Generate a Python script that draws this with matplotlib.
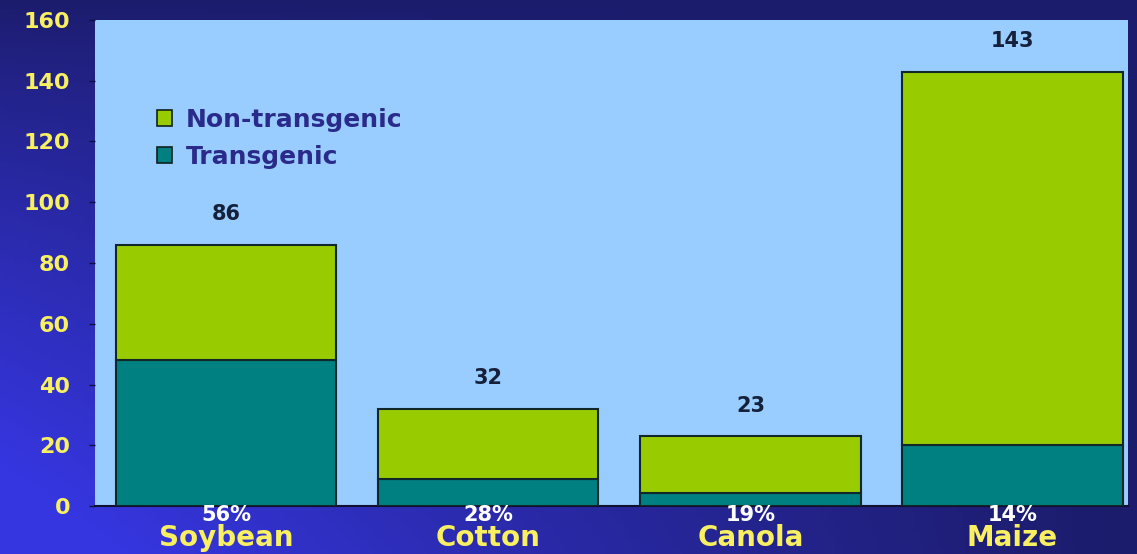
import numpy as np
import matplotlib
matplotlib.use("Agg")
import matplotlib.pyplot as plt
from matplotlib.patches import Patch
from matplotlib.colors import to_rgb

# crop data
crops = ["Soybean", "Cotton", "Canola", "Maize"]
totals = [86, 32, 23, 143]
transgenic = [48, 9, 4.4, 20]
pct_labels = ["56%", "28%", "19%", "14%"]
y_ticks = [0, 20, 40, 60, 80, 100, 120, 140, 160]

non_transgenic = [t - g for t, g in zip(totals, transgenic)]

GREEN = "#99cc00"
TEAL = "#008080"
EDGE = "#10282a"
YELLOW = "#f8f060"
NAVY_TEXT = "#2a2a8a"

fig = plt.figure(figsize=(11.37, 5.54), dpi=100)

# background gradient: bright blue lower-left, dark navy top and right
bg = fig.add_axes([0, 0, 1, 1], zorder=-10)
h, w = 120, 240
yy, xx = np.mgrid[0:1:h * 1j, 0:1:w * 1j]  # yy=0 top, 1 bottom
dark = np.array(to_rgb("#1c1c6c"))
bright = np.array(to_rgb("#3636e0"))
t = np.clip(yy ** 0.8 * (1 - xx) ** 1.2 * 1.15, 0, 1)
img = dark[None, None, :] * (1 - t[..., None]) + bright[None, None, :] * t[..., None]
bg.imshow(img, aspect="auto", extent=[0, 1, 0, 1], origin="upper")
bg.axis("off")

ax = fig.add_axes([0.0836, 0.0866, 0.9084, 0.8774])
ax.set_facecolor("#99ccff")

x = np.arange(len(crops))
ax.bar(x, transgenic, width=0.84, color=TEAL, edgecolor=EDGE, linewidth=1.5, zorder=3)
ax.bar(x, non_transgenic, width=0.84, bottom=transgenic, color=GREEN,
       edgecolor=EDGE, linewidth=1.5, zorder=3)

for xi, tot in zip(x, totals):
    ax.annotate(str(tot), (xi, tot), xytext=(0, 22), textcoords="offset points",
                ha="center", va="center", fontsize=15, fontweight="bold",
                color="#15203a", zorder=4)

ax.set_xlim(-0.5, 3.44)
ax.set_ylim(0, 160)
ax.set_yticks(y_ticks)
ax.set_yticklabels([str(v) for v in y_ticks], color=YELLOW, fontsize=16,
                   fontweight="bold")
ax.tick_params(axis="y", length=4, width=1, color="#101040", pad=14)
ax.set_xticks([])

for s in ["top", "right", "left"]:
    ax.spines[s].set_visible(False)
ax.spines["bottom"].set_color("#101030")
ax.spines["bottom"].set_linewidth(1.5)

tr = ax.get_xaxis_transform()
for xi, p, c in zip(x, pct_labels, crops):
    ax.text(xi, -0.018, p, transform=tr, ha="center", va="center",
            fontsize=15, fontweight="bold", color="white", clip_on=False)
    ax.text(xi, -0.066, c, transform=tr, ha="center", va="center",
            fontsize=20, fontweight="bold", color=YELLOW, clip_on=False)

handles = [Patch(facecolor=GREEN, edgecolor="#102020", linewidth=1.2, label="Non-transgenic"),
           Patch(facecolor=TEAL, edgecolor="#102020", linewidth=1.2, label="Transgenic")]
leg = ax.legend(handles=handles, loc="upper left", bbox_to_anchor=(0.038, 0.865),
                frameon=False, handlelength=0.6, handleheight=0.6, handletextpad=0.55,
                labelspacing=0.5, prop={"size": 18, "weight": "bold"})
for txt in leg.get_texts():
    txt.set_color(NAVY_TEXT)

fig.savefig("out.png", dpi=100)
